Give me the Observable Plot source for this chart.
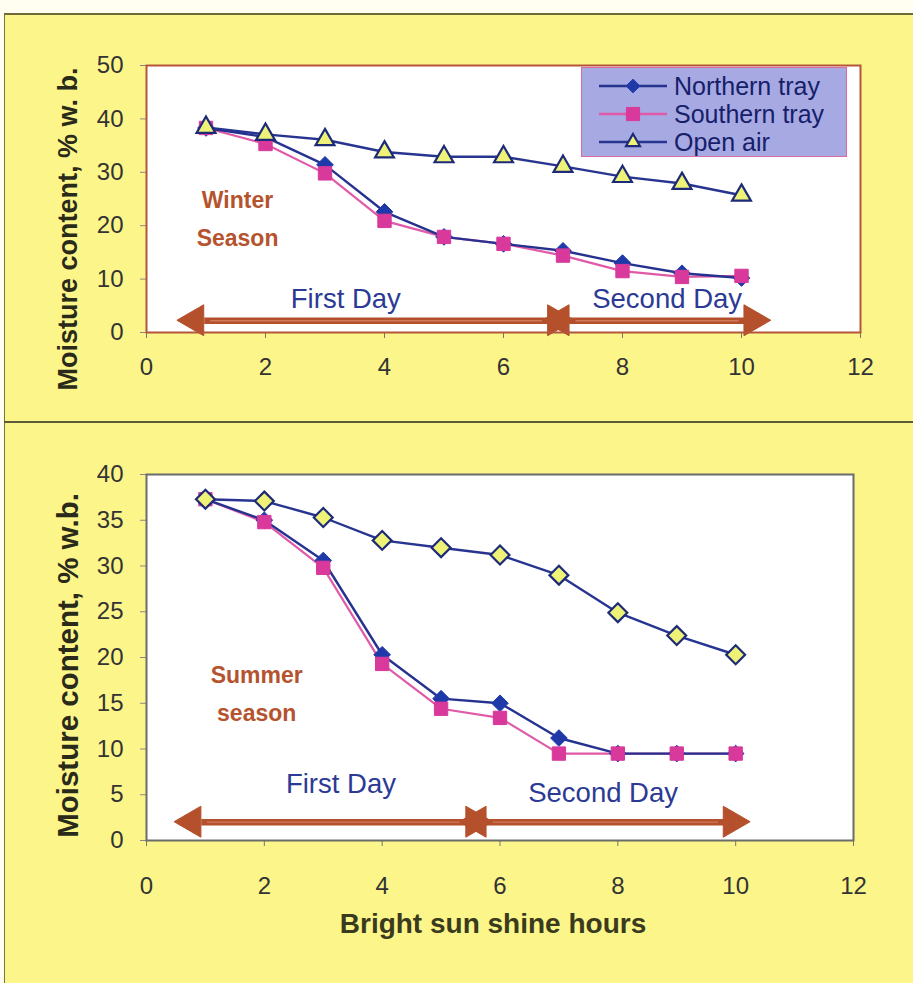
<!DOCTYPE html>
<html>
<head>
<meta charset="utf-8">
<script src="https://cdn.jsdelivr.net/npm/d3@7"></script>
<script src="https://cdn.jsdelivr.net/npm/@observablehq/plot@0.6"></script>
<style>
  html, body { margin: 0; padding: 0; background: #ffffff; }
  #page { position: relative; width: 913px; height: 983px; overflow: hidden; background: #fffef0; }
  #sheet { position: absolute; left: 4px; top: 13px; width: 909px; height: 970px; background: #fcf68a;
           border-top: 2px solid #6f6a3a; border-left: 1px solid #7a7540; box-sizing: border-box; }
  #divider { position: absolute; left: 4px; top: 421px; width: 909px; height: 0; border-top: 2px solid #5d5a35; }
  .chart { position: absolute; left: 0; }
  #top { top: 13px; }
  #bottom { top: 423px; }
  #legend { position: absolute; left: 581px; top: 67px; width: 266px; height: 90px; background: #a6a9e2;
            border: 1.5px solid #d86aa6; box-sizing: border-box; font-family: "Liberation Sans", Arial, sans-serif;
            font-size: 25px; line-height: 1; color: #16206a; }
  #legend .row { position: absolute; left: 0; height: 26px; display: flex; align-items: center; }
  #legend .row span { display: inline-block; height: 25px; line-height: 25px; overflow: visible; }
  #legend svg { margin-left: 15px; margin-right: 5px; }
</style>
</head>
<body>
<div id="page">
  <div id="sheet"></div>
  <div id="divider"></div>
  <div id="top" class="chart"></div>
  <div id="bottom" class="chart"></div>
  <div id="legend"></div>
</div>
<script>
// ---------- data ----------
const hours = [1, 2, 3, 4, 5, 6, 7, 8, 9, 10];
const seriesNames = ["Northern tray", "Southern tray", "Open air"];

const winterNorthern = [38.3, 36.6, 31.4, 22.6, 17.9, 16.6, 15.3, 13.0, 11.1, 10.2];
const winterSouthern = [38.3, 35.3, 29.8, 20.9, 17.9, 16.6, 14.4, 11.5, 10.4, 10.6];
const winterOpen     = [38.4, 37.1, 36.1, 33.8, 32.9, 32.9, 31.1, 29.2, 27.9, 25.7];

const summerNorthern = [37.3, 35.0, 30.6, 20.3, 15.5, 15.0, 11.2, 9.5, 9.5, 9.5];
const summerSouthern = [37.3, 34.8, 29.8, 19.3, 14.4, 13.4, 9.5, 9.5, 9.5, 9.5];
const summerOpen     = [37.3, 37.1, 35.3, 32.8, 32.0, 31.2, 29.0, 24.9, 22.4, 20.3];

const xTicks = [0, 2, 4, 6, 8, 10, 12];
const winterYTicks = [0, 10, 20, 30, 40, 50];
const summerYTicks = [0, 5, 10, 15, 20, 25, 30, 35, 40];

// day arrows: [start, end] in hours, at moisture level
const winterDays = [{label: "First Day", x1: 0.82, x2: 6.9, tx: 3.35, ty: 6.3},
                    {label: "Second Day", x1: 6.96, x2: 10.2, tx: 8.75, ty: 6.3}];
const winterArrowY = 2.2;
const summerDays = [{label: "First Day", x1: 0.78, x2: 5.58, tx: 3.3, ty: 6.2},
                    {label: "Second Day", x1: 5.62, x2: 9.95, tx: 7.75, ty: 5.2}];
const summerArrowY = 2.0;

const winterLabel = {text: "Winter\nSeason", x: 1.53, y: 22.1};
const summerLabel = {text: "Summer\nseason", x: 1.87, y: 16.5};

// ---------- styles ----------
const C = {
  north: "#1f3aa8", northLine: "#26328f",
  south: "#d8399b", southLine: "#e05aa8",
  openLine: "#283590", openFill: "#eef276", openStroke: "#1d2a78",
  arrow: "#b4502c", season: "#b5532e", day: "#2b3a94"
};
const font = "'Liberation Sans', Arial, Helvetica, sans-serif";

function rows(ys) { return hours.map((h, i) => ({x: h, y: ys[i]})); }

function arrowMarks(days, yLevel) {
  const heads = days.flatMap(d => [
    {x: d.x1, y: yLevel, rot: -90, dx: 9},
    {x: d.x2, y: yLevel, rot: 90, dx: -9}
  ]);
  return [
    Plot.link(days, {x1: d => d.x1 + 0.15, x2: d => d.x2 - 0.15, y1: () => yLevel, y2: () => yLevel,
      stroke: C.arrow, strokeWidth: 6.5}),
    Plot.link(days, {x1: d => d.x1 + 0.25, x2: d => d.x2 - 0.25, y1: () => yLevel, y2: () => yLevel,
      stroke: "#d07a5a", strokeWidth: 1.3}),
    Plot.dot(heads, {x: "x", y: "y", dx: "dx", rotate: "rot", symbol: "triangle", r: 11.5, fill: C.arrow, stroke: C.arrow, strokeWidth: 1}),
    Plot.text(days, {x: "tx", y: "ty", text: "label", fill: C.day, fontSize: 27.5, fontFamily: font})
  ];
}

function chart({height, marginTop, marginBottom, marginRight, yDomain, yTicks, frameStroke, xPad,
                north, south, open, openSymbol, openR, days, arrowY, season, yLabel, yLabelSize, yLabelDy, xTitle}) {
  return Plot.plot({
    width: 913,
    height,
    marginLeft: 146,
    marginRight,
    marginTop,
    marginBottom,
    style: {background: "transparent", fontFamily: font, color: "#222", overflow: "visible"},
    x: {domain: [0, 12]},
    y: {domain: yDomain},
    marks: [
      Plot.frame({fill: "white", stroke: "none"}),
      Plot.axisX({ticks: xTicks, tickSize: 6, tickPadding: xPad, fontSize: 24, label: null, stroke: "#777", fill: "#333"}),
      Plot.axisY({ticks: yTicks, tickSize: 6, tickPadding: 17, fontSize: 24, label: null, stroke: "#888", fill: "#333"}),
      Plot.text([yLabel], {frameAnchor: "left", textAnchor: "middle", lineAnchor: "middle", rotate: -90, dx: -78, dy: yLabelDy,
        fontWeight: "bold", fontSize: yLabelSize, fill: "#2a2a1a", fontFamily: font}),
      ...(xTitle ? [Plot.text([xTitle], {frameAnchor: "bottom", dy: 92, dx: -7, fontWeight: "bold", fontSize: 28, fill: "#3a3a1e", fontFamily: font})] : []),
      ...arrowMarks(days, arrowY),
      Plot.text([season], {x: "x", y: "y", text: "text", fill: C.season, fontWeight: "bold", fontSize: 23, lineHeight: 1.65, fontFamily: font}),
      Plot.line(rows(open), {x: "x", y: "y", stroke: C.openLine, strokeWidth: 2.4}),
      Plot.line(rows(south), {x: "x", y: "y", stroke: C.southLine, strokeWidth: 2.2}),
      Plot.line(rows(north), {x: "x", y: "y", stroke: C.northLine, strokeWidth: 2.4}),
      Plot.dot(rows(north), {x: "x", y: "y", symbol: "diamond2", r: 7.5, fill: C.north, stroke: C.north, strokeWidth: 1}),
      Plot.dot(rows(south), {x: "x", y: "y", symbol: "square2", r: 8.5, fill: C.south, stroke: C.south, strokeWidth: 1}),
      Plot.dot(rows(open), {x: "x", y: "y", symbol: openSymbol, r: openR, fill: C.openFill, stroke: C.openStroke, strokeWidth: 2.2}),
      Plot.frame({stroke: frameStroke, strokeWidth: 2})
    ]
  });
}

document.getElementById("top").append(chart({
  height: 409, marginTop: 52, marginBottom: 90, marginRight: 53, xPad: 19,
  yDomain: [0, 50], yTicks: winterYTicks, frameStroke: "#b4553a",
  north: winterNorthern, south: winterSouthern, open: winterOpen,
  openSymbol: "triangle2", openR: 9,
  days: winterDays, arrowY: winterArrowY, season: winterLabel,
  yLabel: "Moisture content, % w. b.", yLabelSize: 27, yLabelDy: 30
}));

document.getElementById("bottom").append(chart({
  height: 560, marginTop: 51, marginBottom: 143, marginRight: 60, xPad: 30,
  yDomain: [0, 40], yTicks: summerYTicks, frameStroke: "#6b6b6b",
  north: summerNorthern, south: summerSouthern, open: summerOpen,
  openSymbol: "diamond2", openR: 8.5,
  days: summerDays, arrowY: summerArrowY, season: summerLabel,
  yLabel: "Moisture content, % w.b.", yLabelSize: 29.5, yLabelDy: 8, xTitle: "Bright sun shine hours"
}));

// ---------- legend (winter panel) ----------
const legendItems = [
  {name: seriesNames[0], line: C.northLine, sym: d3.symbolDiamond2, fill: C.north, stroke: C.north, size: 120},
  {name: seriesNames[1], line: C.southLine, sym: d3.symbolSquare2, fill: C.south, stroke: C.south, size: 220},
  {name: seriesNames[2], line: C.openLine, sym: d3.symbolTriangle2, fill: C.openFill, stroke: C.openStroke, size: 140}
];
const legend = document.getElementById("legend");
legendItems.forEach((it, i) => {
  const row = document.createElement("div");
  row.className = "row";
  row.style.top = (5 + i * 28) + "px";
  const svg = d3.create("svg").attr("width", 72).attr("height", 26);
  svg.append("line").attr("x1", 2).attr("x2", 70).attr("y1", 13).attr("y2", 13)
    .attr("stroke", it.line).attr("stroke-width", 2.4);
  svg.append("path").attr("d", d3.symbol(it.sym, it.size)()).attr("transform", "translate(36,13)")
    .attr("fill", it.fill).attr("stroke", it.stroke).attr("stroke-width", it.name === "Open air" ? 2.2 : 1);
  row.append(svg.node());
  const span = document.createElement("span");
  span.textContent = it.name;
  row.append(span);
  legend.append(row);
});
</script>
</body>
</html>
